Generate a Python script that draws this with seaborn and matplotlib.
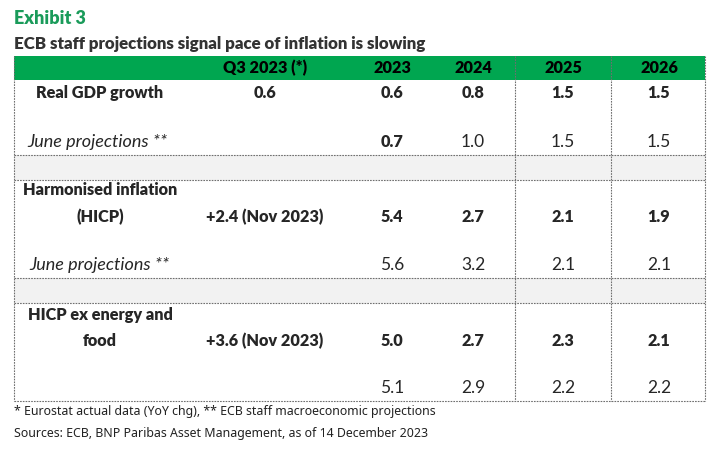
import seaborn as sns
import matplotlib.pyplot as plt

# table content
columns = ["Q3 2023 (*)", "2023", "2024", "2025", "2026"]
gdp_label = "Real GDP growth"
gdp_q3 = "0.6"
gdp = [0.6, 0.8, 1.5, 1.5]
gdp_june = [0.7, 1.0, 1.5, 1.5]
hicp_label = ["Harmonised inflation", "(HICP)"]
hicp_q3 = "+2.4 (Nov 2023)"
hicp = [5.4, 2.7, 2.1, 1.9]
hicp_june = [5.6, 3.2, 2.1, 2.1]
core_label = ["HICP ex energy and", "food"]
core_q3 = "+3.6 (Nov 2023)"
core = [5.0, 2.7, 2.3, 2.1]
core_june = [5.1, 2.9, 2.2, 2.2]
june_label = "June projections **"

title_top = "Exhibit 3"
title = "ECB staff projections signal pace of inflation is slowing"
note1 = "* Eurostat actual data (YoY chg), ** ECB staff macroeconomic projections"
note2 = "Sources: ECB, BNP Paribas Asset Management, as of 14 December 2023"

sns.set_theme(style="white")
plt.rcParams['font.family'] = ['Lato', 'DejaVu Sans']

GREEN = "#00a650"
GREY = "#f2f2f2"
LINE = "#6f6f6f"
BOLD = "heavy"

fig = plt.figure(figsize=(7.25, 4.55), dpi=100)
ax = fig.add_axes([0, 0, 1, 1])
ax.set_xlim(0, 725)
ax.set_ylim(455, 0)
ax.axis("off")

left, right = 14, 705
col_x = [265, 392, 473, 563, 659]
label_x = 100
fs = 11.7

# header band and grey separators
ax.fill_between([left, right], 56, 80, color=GREEN, lw=0)
for y0, y1 in [(155, 180), (278, 303)]:
    ax.fill_between([left, right], y0, y1, color=GREY, lw=0)

# dotted grid
dash = dict(color=LINE, lw=0.8, ls=(0, (1.5, 1)))
for y in [155, 180, 278, 303, 401]:
    ax.plot([left, right], [y, y], **dash)
for x in [left, 515, 611, right]:
    ax.plot([x, x], [56, 401], **dash)

for x, c in zip(col_x, columns):
    ax.text(x, 68, c, ha="center", va="center", fontsize=fs, fontweight=BOLD, color="black")


def value_row(y, q3, vals, bold, bold_mask=None):
    if q3 is not None:
        ax.text(col_x[0], y, q3, ha="center", va="center", fontsize=fs, fontweight=BOLD)
    for i, (x, v) in enumerate(zip(col_x[1:], vals)):
        if bold or (bold_mask and bold_mask[i]):
            ax.text(x, y, f"{v:.1f}", ha="center", va="center", fontsize=fs, fontweight=BOLD)
        else:
            ax.text(x, y, f"{v:.1f}", ha="center", va="center", fontsize=12.5)


# GDP block
ax.text(label_x, 93, gdp_label, ha="center", va="center", fontsize=fs, fontweight=BOLD)
value_row(93, gdp_q3, gdp, True)
ax.text(27, 142, june_label, ha="left", va="center", fontsize=13, style="italic")
value_row(142, None, gdp_june, False, [True, False, False, False])

# HICP block
ax.text(label_x, 190, hicp_label[0], ha="center", va="center", fontsize=fs, fontweight=BOLD)
ax.text(label_x, 217, hicp_label[1], ha="center", va="center", fontsize=fs, fontweight=BOLD)
value_row(217, hicp_q3, hicp, True)
ax.text(29, 265, june_label, ha="left", va="center", fontsize=13, style="italic")
value_row(265, None, hicp_june, False)

# core block
ax.text(label_x, 315, core_label[0], ha="center", va="center", fontsize=fs, fontweight=BOLD)
ax.text(label_x, 341, core_label[1], ha="center", va="center", fontsize=fs, fontweight=BOLD)
value_row(341, core_q3, core, True)
value_row(388, None, core_june, False)

# titles and notes
ax.text(left, 19, title_top, ha="left", va="center", fontsize=13, fontweight=BOLD, color="#1a9b5a")
ax.text(left, 44, title, ha="left", va="center", fontsize=12.2, fontweight=BOLD, color="#333333")
ax.text(left, 411, note1, ha="left", va="center", fontsize=8.9, color="#222222", family=["Noto Sans", "DejaVu Sans"])
ax.text(left, 434, note2, ha="left", va="center", fontsize=8.9, color="#222222", family=["Noto Sans", "DejaVu Sans"])

fig.savefig("out.png", dpi=100)
